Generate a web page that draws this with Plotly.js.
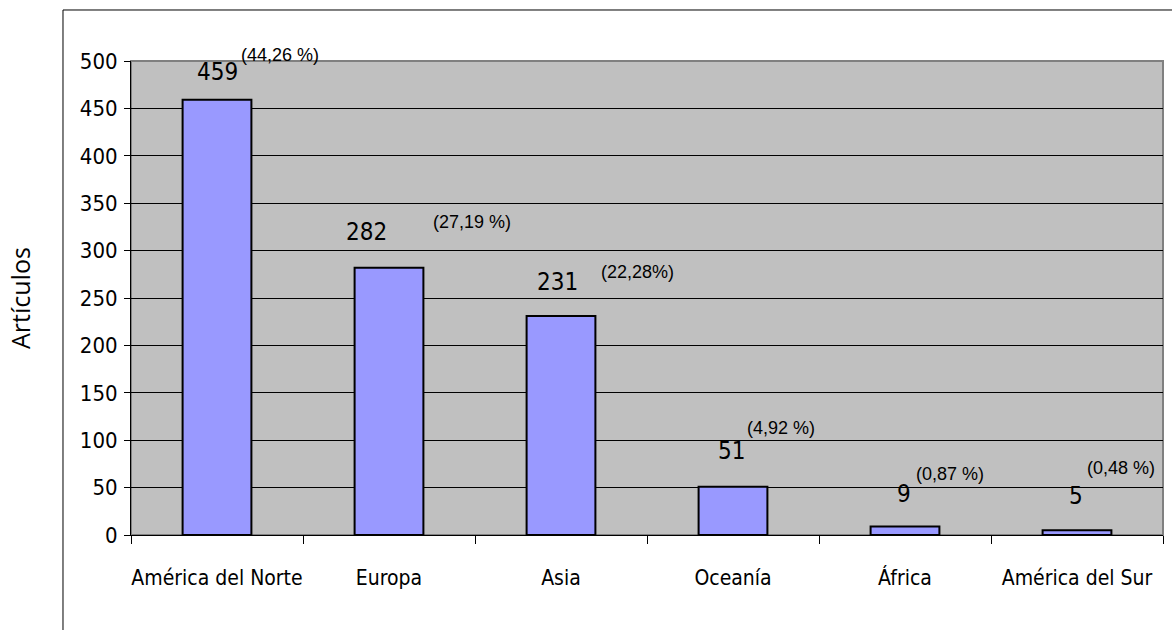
<!DOCTYPE html>
<html><head><meta charset="utf-8">
<script src="https://cdn.plot.ly/plotly-3.0.1.min.js"></script>
<style>html,body{margin:0;padding:0;background:#fff;}#chart{width:1172px;height:630px;}</style>
</head><body><div id="chart"></div>
<script>
const categories = ["América del Norte", "Europa", "Asia", "Oceanía", "África", "América del Sur"];
const articles = [459, 282, 231, 51, 9, 5];
const percentLabels = ["(44,26 %)", "(27,19 %)", "(22,28%)", "(4,92 %)", "(0,87 %)", "(0,48 %)"];
const yTicks = [0, 50, 100, 150, 200, 250, 300, 350, 400, 450, 500];

// label placement (pixels relative to bar top / centre)
const valueShiftY = [28, 36, 34, 36, 32, 34];
const valueShiftX = [0, -23, -4, -2, -1, -1];
const pctShiftY = [45, 46, 44, 59, 52, 62];
const pctShiftX = [22, 42, 38, 12, 9, 8];

const NARROW = '"DejaVu Sans Condensed", "Liberation Sans Narrow", sans-serif';
const ARIAL = '"Liberation Sans", Arial, sans-serif';

const annotations = [];
categories.forEach((c, i) => {
  annotations.push({x: c, y: articles[i], xref: 'x', yref: 'y', text: String(articles[i]),
    showarrow: false, xanchor: 'center', yanchor: 'middle', xshift: valueShiftX[i], yshift: valueShiftY[i],
    font: {family: NARROW, size: 24, color: '#000'}});
  annotations.push({x: c, y: articles[i], xref: 'x', yref: 'y', text: percentLabels[i],
    showarrow: false, xanchor: 'left', yanchor: 'middle', xshift: pctShiftX[i], yshift: pctShiftY[i],
    font: {family: ARIAL, size: 18, color: '#000'}});
});
annotations.push({x: -0.1076, y: 0.5, xref: 'paper', yref: 'paper', text: 'Artículos', textangle: -90,
  showarrow: false, xanchor: 'center', yanchor: 'middle', font: {family: '"Open Sans", "Noto Sans", sans-serif', size: 25, color: '#000'}});

const data = [{
  type: 'bar', x: categories, y: articles,
  marker: {color: '#9999FF', line: {color: '#000', width: 2}},
  hoverinfo: 'x+y'
}];

const layout = {
  width: 1172, height: 630,
  margin: {l: 131, r: 9, t: 61, b: 95},
  paper_bgcolor: '#fff', plot_bgcolor: '#C0C0C0',
  bargap: 0.6, showlegend: false,
  xaxis: {type: 'category', tickson: 'boundaries', ticks: 'outside', ticklen: 8, tickcolor: '#000',
    tickangle: 0, automargin: false,
    showgrid: false, showline: true, linecolor: '#000', linewidth: 1, zeroline: false,
    ticklabelstandoff: 24,
    tickfont: {family: NARROW, size: 21, color: '#000'}},
  yaxis: {range: [0, 500], tickvals: yTicks, ticks: 'outside', ticklen: 6, tickcolor: '#000',
    automargin: false,
    showgrid: true, gridcolor: '#000', gridwidth: 1, showline: true, linecolor: '#000', linewidth: 1,
    zeroline: false, ticklabelstandoff: 2,
    tickfont: {family: NARROW, size: 22, color: '#000'}},
  shapes: [
    {type: 'rect', xref: 'paper', yref: 'paper', x0: 0, x1: 1, y0: 0, y1: 1, line: {color: '#808080', width: 2}, layer: 'below'},
    {type: 'rect', xref: 'paper', yref: 'paper', x0: -0.0659, x1: 1.05, y0: -0.35, y1: 1.1076, line: {color: '#000', width: 1}}
  ],
  annotations: annotations
};
Plotly.newPlot('chart', data, layout, {displayModeBar: false, staticPlot: true});
</script></body></html>
